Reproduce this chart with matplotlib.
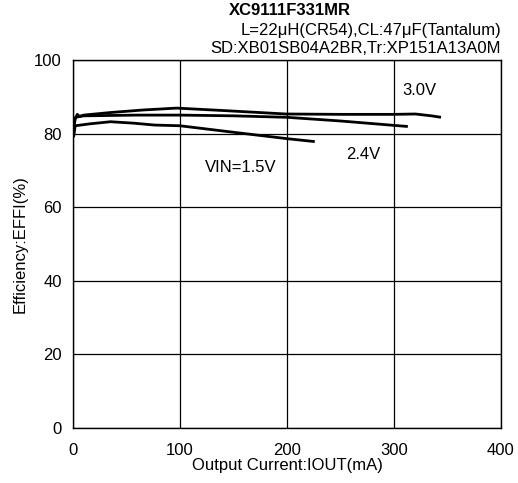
import matplotlib
matplotlib.use("Agg")
import matplotlib.pyplot as plt

plt.rcParams['font.family'] = ['Liberation Sans', 'DejaVu Sans']

# data
iout_30 = [0.5, 2, 10, 35, 66, 97, 143, 199, 250, 300, 320, 335, 344]
eff_30 = [82.0, 84.3, 85.0, 85.7, 86.4, 86.9, 86.2, 85.3, 85.2, 85.2, 85.3, 84.8, 84.4]

iout_24 = [0.5, 2, 4, 6, 10, 60, 100, 150, 200, 250, 313]
eff_24 = [81.0, 84.0, 85.2, 84.6, 84.8, 85.0, 85.0, 84.8, 84.4, 83.4, 81.9]

iout_15 = [0.5, 2, 15, 35, 57, 76, 100, 151, 200, 226]
eff_15 = [79.0, 82.1, 82.6, 83.2, 82.8, 82.3, 82.1, 80.3, 78.6, 77.8]

x_ticks = [0, 100, 200, 300, 400]
y_ticks = [0, 20, 40, 60, 80, 100]

fig = plt.figure(figsize=(5.18, 4.83), dpi=100)
ax = fig.add_axes([0.141, 0.114, 0.826, 0.762])

for xs, ys in [(iout_30, eff_30), (iout_24, eff_24), (iout_15, eff_15)]:
    ax.plot(xs, ys, color='black', lw=2.0, solid_capstyle='butt')

ax.set_xlim(0, 400)
ax.set_ylim(0, 100)
ax.set_xticks(x_ticks)
ax.set_yticks(y_ticks)
ax.tick_params(length=0, labelsize=12)
ax.tick_params(axis='x', pad=11)
ax.tick_params(axis='y', pad=8)
ax.grid(True, color='black', lw=0.9)
for s in ax.spines.values():
    s.set_color('black')
    s.set_linewidth(1.0)

ax.set_xlabel('Output Current:IOUT(mA)', fontsize=12, labelpad=0)
ax.set_ylabel('Efficiency:EFFI(%)', fontsize=12, labelpad=5)

ax.text(308, 91.8, '3.0V', fontsize=12, va='center')
ax.text(255, 74.2, '2.4V', fontsize=12, va='center')
ax.text(123, 70.7, 'VIN=1.5V', fontsize=12, va='center')

fig.text(0.56, 0.978, 'XC9111F331MR', fontsize=12, fontweight='bold', ha='center', va='center')
fig.text(0.967, 0.937, 'L=22μH(CR54),CL:47μF(Tantalum)', fontsize=12, ha='right', va='center')
fig.text(0.967, 0.900, 'SD:XB01SB04A2BR,Tr:XP151A13A0M', fontsize=12, ha='right', va='center')

fig.savefig('out.png', dpi=100)
